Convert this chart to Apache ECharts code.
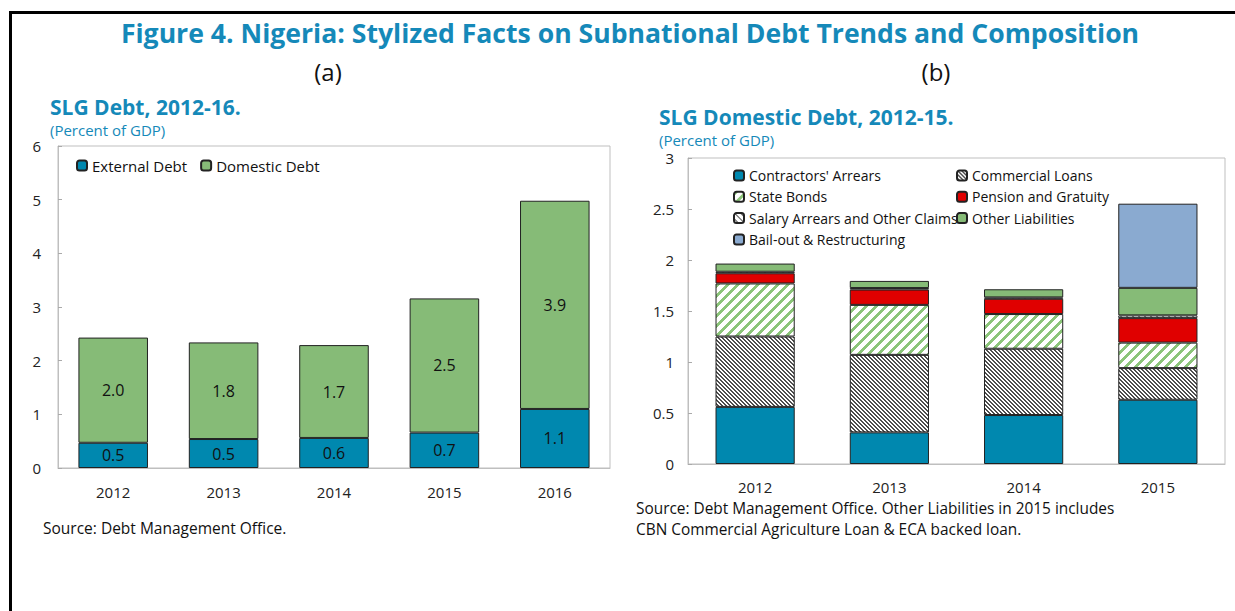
<!DOCTYPE html>
<html>
<head>
<meta charset="utf-8">
<script src="https://cdn.jsdelivr.net/npm/echarts@6/dist/echarts.min.js"></script>
<style>
  html, body { margin: 0; padding: 0; background: #fff; overflow: hidden; }
  #wrap { position: relative; width: 1235px; height: 611px; overflow: hidden; }
  #main { position: absolute; left: 0; top: 0; width: 1235px; height: 611px; }
  #frame { position: absolute; left: 9px; top: 11px; width: 1300px; height: 700px;
           border-top: 3px solid #000; border-left: 3px solid #000; pointer-events: none; }
</style>
</head>
<body>
<div id="wrap">
  <div id="main"></div>
  <div id="frame"></div>
</div>
<script>
// panel (a): SLG debt, percent of GDP
var yearsA = ['2012', '2013', '2014', '2015', '2016'];
var externalDebt = [0.47, 0.54, 0.56, 0.66, 1.10];
var domesticDebt = [1.96, 1.80, 1.73, 2.50, 3.88];
var ticksA = [0, 1, 2, 3, 4, 5, 6];

// panel (b): SLG domestic debt by component, percent of GDP
var yearsB = ['2012', '2013', '2014', '2015'];
var contractorsArrears = [0.56, 0.31, 0.48, 0.63];
var commercialLoans = [0.69, 0.76, 0.65, 0.31];
var stateBonds = [0.52, 0.49, 0.34, 0.25];
var pensionGratuity = [0.10, 0.15, 0.15, 0.24];
var salaryArrears = [0.015, 0.015, 0.013, 0.027];
var otherLiabilities = [0.08, 0.07, 0.08, 0.27];
var bailOut = [null, null, null, 0.825];
var ticksB = [0, 0.5, 1, 1.5, 2, 2.5, 3];

var FONT = '"Open Sans", "Noto Sans", sans-serif';
var TEAL = '#0088af';
var GREEN = '#86bb77';
var HEAD = '#1589b9';

// diagonal hatch tile, dir 1 = "/" , dir -1 = "\"
function hatch(size, width, fg, dir) {
  var c = document.createElement('canvas');
  c.width = size;
  c.height = size;
  var ctx = c.getContext('2d');
  ctx.fillStyle = '#fff';
  ctx.fillRect(0, 0, size, size);
  ctx.fillStyle = fg;
  for (var x = 0; x < size; x++) {
    for (var y = 0; y < size; y++) {
      var k = dir > 0 ? (x + y) % size : ((x - y) % size + size) % size;
      if (k < width) ctx.fillRect(x, y, 1, 1);
    }
  }
  return { image: c, repeat: 'repeat' };
}

var chart = echarts.init(document.getElementById('main'), null, { renderer: 'svg' });

function txt(text, x, y, size, weight, color, align) {
  return {
    type: 'text',
    style: {
      text: text, x: x, y: y,
      fontSize: size, fontWeight: weight, fontFamily: FONT,
      fill: color,
      align: align, textAlign: align,
      verticalAlign: 'middle', textVerticalAlign: 'middle'
    }
  };
}

var labelFmt = function (p) { return p.value.toFixed(1); };
var barBorder = { borderColor: '#222', borderWidth: 1 };

function stackB(name, data, color) {
  return {
    name: name, type: 'bar', stack: 'b', data: data,
    xAxisIndex: 1, yAxisIndex: 1, barWidth: '59%',
    itemStyle: { color: color, borderColor: '#222', borderWidth: 1 }
  };
}

var axisText = { fontSize: 15, fontFamily: FONT, color: '#222' };
var legendText = { fontSize: 14, fontFamily: FONT, color: '#111', lineHeight: 17 };

var option = {
  animation: false,
  backgroundColor: 'transparent',
  graphic: [
    txt('Figure 4. Nigeria: Stylized Facts on Subnational Debt Trends and Composition', 630, 33, 26.6, 'bold', HEAD, 'center'),
    txt('(a)', 328, 71, 24, 'normal', '#111', 'center'),
    txt('(b)', 936, 71, 24, 'normal', '#111', 'center'),
    txt('SLG Debt, 2012-16.', 50, 107, 21, 'bold', HEAD, 'left'),
    txt('(Percent of GDP)', 50, 130, 15, 'normal', HEAD, 'left'),
    txt('SLG Domestic Debt, 2012-15.', 659, 117, 21, 'bold', HEAD, 'left'),
    txt('(Percent of GDP)', 659, 140, 15, 'normal', HEAD, 'left'),
    txt('Source: Debt Management Office.', 43, 528, 15.5, 'normal', '#111', 'left'),
    txt('Source: Debt Management Office. Other Liabilities in 2015 includes', 636, 508, 15.4, 'normal', '#111', 'left'),
    txt('CBN Commercial Agriculture Loan & ECA backed loan.', 636, 529, 15.4, 'normal', '#111', 'left')
  ],
  legend: [
    { data: ['External Debt', 'Domestic Debt'], left: 76, top: 157, orient: 'horizontal', padding: 0,
      itemWidth: 10, itemHeight: 10, itemGap: 13, selectedMode: false,
      textStyle: { fontSize: 15, fontFamily: FONT, color: '#111', lineHeight: 17 } },
    { data: ["Contractors' Arrears", 'State Bonds', 'Salary Arrears and Other Claims', 'Bail-out & Restructuring'],
      left: 733, top: 167, orient: 'vertical', padding: 0, itemWidth: 10, itemHeight: 10, itemGap: 4.3, selectedMode: false,
      textStyle: legendText },
    { data: ['Commercial Loans', 'Pension and Gratuity', 'Other Liabilities'],
      left: 956, top: 167, orient: 'vertical', padding: 0, itemWidth: 10, itemHeight: 10, itemGap: 4.3, selectedMode: false,
      textStyle: legendText }
  ],
  grid: [
    { left: 58, top: 146, width: 552, height: 322, show: true, borderColor: '#bfbfbf', borderWidth: 1 },
    { left: 688, top: 158, width: 537, height: 306, show: true, borderColor: '#bfbfbf', borderWidth: 1 }
  ],
  xAxis: [
    { type: 'category', gridIndex: 0, data: yearsA,
      axisLine: { lineStyle: { color: '#bfbfbf' } },
      axisTick: { inside: true, length: 5, lineStyle: { color: '#aaa' } },
      axisLabel: Object.assign({ margin: 16 }, axisText) },
    { type: 'category', gridIndex: 1, data: yearsB,
      axisLine: { lineStyle: { color: '#bfbfbf' } },
      axisTick: { inside: true, length: 5, lineStyle: { color: '#aaa' } },
      axisLabel: Object.assign({ margin: 15 }, axisText) }
  ],
  yAxis: [
    { type: 'value', gridIndex: 0, min: ticksA[0], max: ticksA[ticksA.length - 1], interval: ticksA[1] - ticksA[0],
      axisLine: { show: true, lineStyle: { color: '#bfbfbf' } },
      axisTick: { show: true, inside: true, length: 4, lineStyle: { color: '#aaa' } },
      splitLine: { show: false },
      axisLabel: Object.assign({ margin: 17 }, axisText) },
    { type: 'value', gridIndex: 1, min: ticksB[0], max: ticksB[ticksB.length - 1], interval: ticksB[1] - ticksB[0],
      axisLine: { show: true, lineStyle: { color: '#bfbfbf' } },
      axisTick: { show: true, inside: true, length: 4, lineStyle: { color: '#aaa' } },
      splitLine: { show: false },
      axisLabel: Object.assign({ margin: 14 }, axisText) }
  ],
  series: [
    { name: 'External Debt', type: 'bar', stack: 'a', data: externalDebt, barWidth: '63%',
      itemStyle: Object.assign({ color: TEAL }, barBorder),
      label: { show: true, position: 'inside', formatter: labelFmt, fontSize: 16, fontFamily: FONT, color: '#111' } },
    { name: 'Domestic Debt', type: 'bar', stack: 'a', data: domesticDebt, barWidth: '63%',
      itemStyle: Object.assign({ color: GREEN }, barBorder),
      label: { show: true, position: 'inside', formatter: labelFmt, fontSize: 16, fontFamily: FONT, color: '#111' } },
    stackB("Contractors' Arrears", contractorsArrears, TEAL),
    stackB('Commercial Loans', commercialLoans, hatch(4, 2, '#4d4d4d', -1)),
    stackB('State Bonds', stateBonds, hatch(10, 4, '#8cc57a', 1)),
    stackB('Pension and Gratuity', pensionGratuity, '#e00000'),
    stackB('Salary Arrears and Other Claims', salaryArrears, hatch(6, 2, '#888', -1)),
    stackB('Other Liabilities', otherLiabilities, GREEN),
    stackB('Bail-out & Restructuring', bailOut, '#8aaad0')
  ]
};

chart.setOption(option);
</script>
</body>
</html>
